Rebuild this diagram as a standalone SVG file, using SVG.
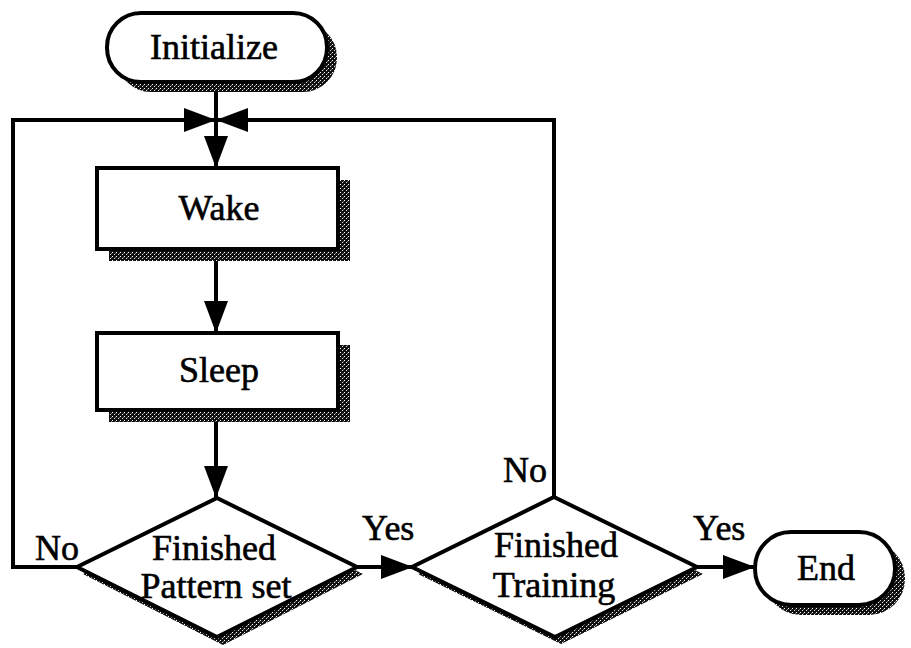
<svg xmlns="http://www.w3.org/2000/svg" width="911" height="648" viewBox="0 0 911 648">
  <style>
    .box { fill: #fff; stroke: #000; stroke-width: 4; }
    .shadow { fill: url(#dither); stroke: none; }
    .label { font-family: "Liberation Serif", "Times New Roman", serif; font-size: 36px; fill: #000; stroke: #000; stroke-width: 0.6; text-anchor: middle; }
    .tag { font-family: "Liberation Serif", "Times New Roman", serif; font-size: 36px; fill: #000; stroke: #000; stroke-width: 0.6; }
    .wire { fill: none; stroke: #000; stroke-width: 4; stroke-linejoin: miter; }
  </style>
  <defs>
    <!-- coarse halftone used for the drop shadows -->
    <pattern id="dither" width="4" height="4" patternUnits="userSpaceOnUse">
      <rect width="4" height="4" fill="#111"/>
      <rect x="0" y="0" width="1" height="1" fill="#fff"/>
      <rect x="2" y="2" width="1" height="1" fill="#ddd"/>
      <rect x="3" y="1" width="1" height="1" fill="#777"/>
    </pattern>
    <marker id="head" viewBox="0 0 32 24" refX="32" refY="12" markerWidth="32" markerHeight="24" markerUnits="userSpaceOnUse" orient="auto">
      <path d="M0,0 L32,12 L0,24 Z" fill="#000"/>
    </marker>
  </defs>

  <!-- connectors -->
  <g id="connectors">
    <line class="wire" x1="216" y1="84" x2="216" y2="168" marker-end="url(#head)"/>
    <line class="wire" x1="216" y1="249" x2="216" y2="333" marker-end="url(#head)"/>
    <line class="wire" x1="216" y1="410" x2="216" y2="498" marker-end="url(#head)"/>
    <!-- No loop from the pattern-set test -->
    <polyline class="wire" points="77,567 13,567 13,120 216,120" marker-end="url(#head)"/>
    <!-- No loop from the training test -->
    <polyline class="wire" points="554,497 554,120 216,120" marker-end="url(#head)"/>
    <line class="wire" x1="357" y1="567" x2="413" y2="567" marker-end="url(#head)"/>
    <line class="wire" x1="697" y1="567" x2="755" y2="567" marker-end="url(#head)"/>
    <text class="tag" x="35" y="560">No</text>
    <text class="tag" x="362" y="540">Yes</text>
    <text class="tag" x="503" y="482">No</text>
    <text class="tag" x="693" y="540">Yes</text>
  </g>

  <g id="initialize">
    <rect class="shadow" x="117" y="23" width="220" height="69" rx="34"/>
    <rect class="box" x="107" y="13" width="220" height="69" rx="34"/>
    <text class="label" x="214" y="59">Initialize</text>
  </g>

  <g id="wake">
    <rect class="shadow" x="109" y="180" width="241" height="81"/>
    <rect class="box" x="97" y="168" width="241" height="81"/>
    <text class="label" x="219" y="220">Wake</text>
  </g>

  <g id="sleep">
    <rect class="shadow" x="109" y="345" width="241" height="77"/>
    <rect class="box" x="97" y="333" width="241" height="77"/>
    <text class="label" x="219" y="382">Sleep</text>
  </g>

  <g id="pattern-test">
    <polygon class="shadow" points="223,505 363,574 223,645 83,574"/>
    <polygon class="box" points="217,498 357,567 217,637 77,567"/>
    <text class="label" x="214" y="560">Finished</text>
    <text class="label" x="216" y="598">Pattern set</text>
  </g>

  <g id="training-test">
    <polygon class="shadow" points="560,504 703,574 561,644 418,574"/>
    <polygon class="box" points="554,497 697,567 555,637 412,567"/>
    <text class="label" x="556" y="557">Finished</text>
    <text class="label" x="554" y="597">Training</text>
  </g>

  <g id="end">
    <rect class="shadow" x="765" y="542" width="140" height="73" rx="36"/>
    <rect class="box" x="755" y="532" width="140" height="73" rx="36"/>
    <text class="label" x="826" y="580">End</text>
  </g>
</svg>
